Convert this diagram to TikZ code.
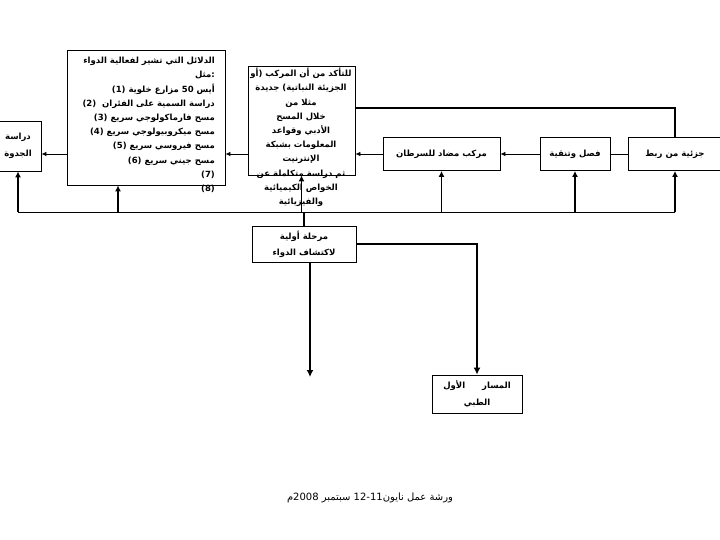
\documentclass[tikz,border=0pt]{standalone}
\usepackage{fontspec}
\usetikzlibrary{arrows.meta}
\TeXXeTstate=1
\newfontfamily\arabicfont[Script=Arabic]{DejaVu Sans}
\newcommand{\artxt}[1]{\beginR #1\endR}

\begin{document}
\begin{tikzpicture}[x=1pt,y=-1pt,
	box/.style={draw,line width=0.8pt,inner sep=0pt},
	txt/.style={font=\arabicfont\bfseries\fontsize{8.5}{14.2}\selectfont,inner sep=0pt},
	link/.style={line width=0.8pt,-{Latex[length=5pt,width=4.5pt]}},
	feed/.style={line width=1.8pt,-{Latex[length=6pt,width=6pt]}},
	drop/.style={line width=2.4pt,-{Latex[length=7pt,width=7pt]}},
	]
			\useasboundingbox (0,0) rectangle (720,540);
			% boxes of the chain
			\node[box,txt,align=center,minimum width=46pt,minimum height=50pt,font=\arabicfont\bfseries\fontsize{8.5}{17}\selectfont] (feas) at (18,146) {\artxt{دراسة}\\\artxt{الجدوة}};
			\node[box,minimum width=158pt,minimum height=135pt] (evid) at (146,117.5) {};
			\node[box,minimum width=107pt,minimum height=109pt] (conf) at (301.5,120.5) {};
			\node[box,txt,minimum width=117pt,minimum height=33pt] (prod) at (441.5,154) {\artxt{مركب مضاد للسرطان}};
			\node[box,txt,minimum width=70pt,minimum height=33pt] (sep) at (575,154) {\artxt{فصل وتنقية}};
			\node[box,txt,minimum width=94pt,minimum height=33pt] (mol) at (675,154) {\artxt{جزئية من ربط}};
			\node[box,txt,align=center,minimum width=104pt,minimum height=36pt,font=\arabicfont\bfseries\fontsize{8.5}{16}\selectfont] (stage) at (304,244) {\artxt{مرحلة أولية}\\\artxt{لاكتشاف الدواء}};
			\node[box,txt,align=center,minimum width=90pt,minimum height=38pt,font=\arabicfont\bfseries\fontsize{8.5}{17}\selectfont] (path) at (477,394) {\artxt{المسار\qquad الأول}\\\artxt{الطبي}};
			% links along the row
			\draw[line width=0.8pt] (mol.west) -- (sep.east);
			\draw[link] (sep.west) -- (prod.east);
			\draw[link] (prod.west) -- (prod.west -| conf.east);
			\draw[link] (prod.west -| conf.west) -- (prod.west -| evid.east);
			\draw[link] (prod.west -| evid.west) -- (prod.west -| feas.east);
			% feeding line
			\coordinate (bus) at (0,212);
			\coordinate (evidin) at (118,212);
			\coordinate (dropend) at (310,377);
			\coordinate (topline) at (0,108);
			\draw[line width=0.8pt] (feas.south |- bus) -- (mol.south |- bus);
			\foreach \n in {feas,conf,prod,sep,mol}
				\draw[feed] (\n.south |- bus) -- (\n.south);
			\draw[feed] (evidin) -- (evidin |- evid.south);
			\draw[line width=2pt] (stage.north) -- (stage.north |- bus);
			\draw[drop] (stage.south -| dropend) -- (dropend);
			\draw[drop] (stage.east) -| (path.north);
			\draw[line width=2.2pt] (conf.east |- topline) -| (mol.north);
			% texts that run out of their boxes
			\node[txt,align=right,anchor=north east] (evidtext) at (215,57) {\artxt{الدلائل التي تشير لفعالية الدواء}\\
				\artxt{مثل}:\\
				(1) \artxt{أيس 50 مزارع خلوية}\\
				(2)\ \ \artxt{دراسة السمية على الفئران}\\
				(3) \artxt{مسح فارماكولوجي سريع}\\
				(4) \artxt{مسح ميكروبيولوجي سريع}\\
				(5) \artxt{مسح فيروسي سريع}\\
				(6) \artxt{مسح جيني سريع}\\
				(7)\\
				(8)};
			\node[txt,align=center,anchor=north] (conftext) at (301,68) {\artxt{للتأكد من أن المركب (أو}\\
				\artxt{الجزيئة النباتية) جديدة}\\
				\artxt{مثلا من}\\
				\artxt{خلال المسح}\\
				\artxt{الأدبي وقواعد}\\
				\artxt{المعلومات بشبكة}\\
				\artxt{الإنترنيت}\\
				\artxt{ثم دراسة متكاملة عن}\\
				\artxt{الخواص الكيميائية}\\
				\artxt{والفيزيائية}};
			\node[font=\arabicfont\fontsize{10}{12}\selectfont] (foot) at (370,498) {\artxt{ورشة عمل نايون\beginL 12-11\endL{} سبتمبر \beginL 2008\endL{}م}};
			\end{tikzpicture}
\end{document}
